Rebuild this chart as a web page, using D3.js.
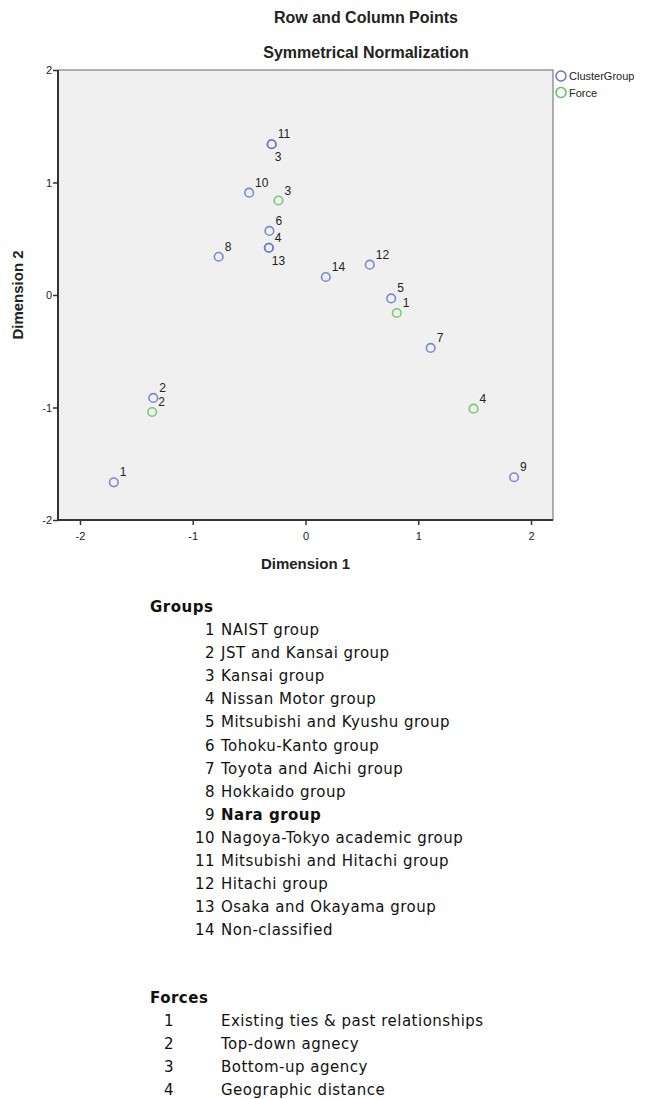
<!DOCTYPE html>
<html>
<head>
<meta charset="utf-8">
<script src="https://cdn.jsdelivr.net/npm/d3@7"></script>
<style>
  body { margin: 0; background: #fff; }
  svg { display: block; }
</style>
</head>
<body>
<div id="chart"></div>
<script>
// row points (cluster groups)
var groupLabels = ["1", "2", "3", "4", "5", "6", "7", "8", "9", "10", "11", "12", "13", "14"];
var groupDim1 = [-1.70, -1.35, -0.30, -0.325, 0.76, -0.32, 1.11, -0.77, 1.85, -0.50, -0.30, 0.57, -0.325, 0.18];
var groupDim2 = [-1.665, -0.915, 1.34, 0.42, -0.03, 0.57, -0.47, 0.34, -1.62, 0.91, 1.34, 0.27, 0.42, 0.16];

// column points (forces)
var forceLabels = ["1", "2", "3", "4"];
var forceDim1 = [0.81, -1.36, -0.24, 1.49];
var forceDim2 = [-0.16, -1.04, 0.84, -1.01];

var tickValues = [-2, -1, 0, 1, 2];

var groupNames = ["NAIST group", "JST and Kansai group", "Kansai group", "Nissan Motor group",
  "Mitsubishi and Kyushu group", "Tohoku-Kanto group", "Toyota and Aichi group", "Hokkaido group",
  "Nara group", "Nagoya-Tokyo academic group", "Mitsubishi and Hitachi group", "Hitachi group",
  "Osaka and Okayama group", "Non-classified"];
var forceNames = ["Existing ties & past relationships", "Top-down agnecy", "Bottom-up agency", "Geographic distance"];

var width = 648, height = 1099;
var margin = { top: 70, left: 58 };
var plotW = 495, plotH = 450;

var blue = "#6877c6", green = "#5cc55c";

var svg = d3.select("#chart").append("svg")
    .attr("width", width)
    .attr("height", height);

var x = d3.scaleLinear().domain([-2.195, 2.195]).range([0, plotW]);
var y = d3.scaleLinear().domain([-2, 2]).range([plotH, 0]);

var g = svg.append("g").attr("transform", "translate(" + margin.left + "," + margin.top + ")");

// plot background and frame
g.append("rect")
    .attr("width", plotW).attr("height", plotH)
    .attr("fill", "#f0f0f0")
    .attr("stroke", "#666").attr("stroke-width", 1);

// axes
var fmt = function (d) { return String(d); };
var xAxis = g.append("g")
    .attr("transform", "translate(0," + plotH + ")")
    .call(d3.axisBottom(x).tickValues(tickValues).tickSize(5).tickPadding(7).tickFormat(fmt));
var yAxis = g.append("g")
    .call(d3.axisLeft(y).tickValues(tickValues).tickSize(5).tickPadding(1).tickFormat(fmt));

[xAxis, yAxis].forEach(function (a) {
    a.select(".domain").attr("stroke", "#333").attr("stroke-width", 2);
    a.selectAll(".tick line").attr("stroke", "#333").attr("stroke-width", 1.5);
    a.selectAll(".tick text")
        .attr("fill", "#222")
        .style("font-family", "'Liberation Sans', Arial, sans-serif")
        .style("font-size", "11px");
});
xAxis.select(".domain").attr("d", "M0,0H" + plotW);
yAxis.select(".domain").attr("d", "M0,0V" + plotH);

// build point list
var points = [];
groupLabels.forEach(function (l, i) {
    points.push({ series: "group", label: l, d1: groupDim1[i], d2: groupDim2[i] });
});
forceLabels.forEach(function (l, i) {
    points.push({ series: "force", label: l, d1: forceDim1[i], d2: forceDim2[i] });
});

// labels that sit under an overlapping point
var labelBelow = { "group3": true, "group13": true };

g.selectAll("circle.pt")
    .data(points)
    .enter()
    .append("circle")
    .attr("class", "pt")
    .attr("cx", function (d) { return x(d.d1); })
    .attr("cy", function (d) { return y(d.d2); })
    .attr("r", 4.3)
    .attr("fill", "none")
    .attr("stroke", function (d) { return d.series == "group" ? blue : green; })
    .attr("stroke-opacity", 0.85)
    .attr("stroke-width", 1.6);

g.selectAll("text.pl")
    .data(points)
    .enter()
    .append("text")
    .attr("class", "pl")
    .attr("x", function (d) { return x(d.d1) + (labelBelow[d.series + d.label] ? 3 : 6); })
    .attr("y", function (d) { return y(d.d2) + (labelBelow[d.series + d.label] ? 17 : -6); })
    .attr("fill", "#222")
    .style("font-family", "'Liberation Sans', Arial, sans-serif")
    .style("font-size", "12px")
    .text(function (d) { return d.label; });

// titles
svg.append("text")
    .attr("x", 366).attr("y", 23)
    .attr("text-anchor", "middle")
    .style("font-family", "'Liberation Sans', Arial, sans-serif")
    .style("font-size", "16px").style("font-weight", "bold")
    .attr("fill", "#222")
    .text("Row and Column Points");
svg.append("text")
    .attr("x", 366).attr("y", 58)
    .attr("text-anchor", "middle")
    .style("font-family", "'Liberation Sans', Arial, sans-serif")
    .style("font-size", "16px").style("font-weight", "bold")
    .attr("fill", "#222")
    .text("Symmetrical Normalization");

svg.append("text")
    .attr("x", margin.left + x(0)).attr("y", 569)
    .attr("text-anchor", "middle")
    .style("font-family", "'Liberation Sans', Arial, sans-serif")
    .style("font-size", "15px").style("font-weight", "bold")
    .attr("fill", "#222")
    .text("Dimension 1");
svg.append("text")
    .attr("transform", "translate(23," + (margin.top + y(0)) + ") rotate(-90)")
    .attr("text-anchor", "middle")
    .style("font-family", "'Liberation Sans', Arial, sans-serif")
    .style("font-size", "15px").style("font-weight", "bold")
    .attr("fill", "#222")
    .text("Dimension 2");

// legend
var legend = svg.append("g").attr("transform", "translate(561,76)");
[["ClusterGroup", blue], ["Force", green]].forEach(function (it, i) {
    legend.append("circle")
        .attr("cx", 0).attr("cy", i * 16.5)
        .attr("r", 5)
        .attr("fill", "none")
        .attr("stroke", it[1]).attr("stroke-width", 1.5);
    legend.append("text")
        .attr("x", 8).attr("y", i * 16.5 + 4)
        .style("font-family", "'Liberation Sans', Arial, sans-serif")
        .style("font-size", "11px")
        .attr("fill", "#222")
        .text(it[0]);
});

// group and force keys below the chart
var listFont = "'DejaVu Sans', sans-serif";

function listText(sel) {
    return sel.style("font-family", listFont)
        .style("font-size", "15px")
        .style("letter-spacing", "0.5px")
        .attr("fill", "#111");
}

listText(svg.append("text"))
    .attr("x", 150).attr("y", 612)
    .style("font-weight", "bold")
    .text("Groups");

var groupRows = svg.selectAll("g.grow")
    .data(groupNames)
    .enter()
    .append("g")
    .attr("class", "grow")
    .attr("transform", function (d, i) { return "translate(0," + (635 + i * 23.1) + ")"; });
listText(groupRows.append("text"))
    .attr("x", 215).attr("text-anchor", "end")
    .text(function (d, i) { return groupLabels[i]; });
listText(groupRows.append("text"))
    .attr("x", 221)
    .style("font-weight", function (d, i) { return groupLabels[i] == "9" ? "bold" : "normal"; })
    .text(function (d) { return d; });

listText(svg.append("text"))
    .attr("x", 150).attr("y", 1003)
    .style("font-weight", "bold")
    .text("Forces");

var forceRows = svg.selectAll("g.frow")
    .data(forceNames)
    .enter()
    .append("g")
    .attr("class", "frow")
    .attr("transform", function (d, i) { return "translate(0," + (1026 + i * 23) + ")"; });
listText(forceRows.append("text"))
    .attr("x", 164)
    .text(function (d, i) { return forceLabels[i]; });
listText(forceRows.append("text"))
    .attr("x", 221)
    .text(function (d) { return d; });
</script>
</body>
</html>
